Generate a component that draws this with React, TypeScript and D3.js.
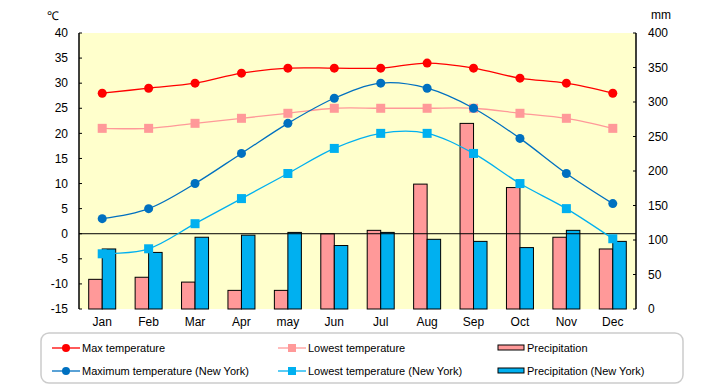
import React, { useRef, useEffect } from 'react';
import * as d3 from 'd3';

const months = ['Jan', 'Feb', 'Mar', 'Apr', 'may', 'Jun', 'Jul', 'Aug', 'Sep', 'Oct', 'Nov', 'Dec'];
const maxTemp = [28, 29, 30, 32, 33, 33, 33, 34, 33, 31, 30, 28];
const lowTemp = [21, 21, 22, 23, 24, 25, 25, 25, 25, 24, 23, 21];
const nyMaxTemp = [3, 5, 10, 16, 22, 27, 30, 29, 25, 19, 12, 6];
const nyLowTemp = [-4, -3, 2, 7, 12, 17, 20, 20, 16, 10, 5, -1];
const precip = [43, 46, 39, 27, 27, 109, 114, 181, 269, 176, 104, 87];
const nyPrecip = [87, 82, 104, 107, 111, 92, 111, 101, 98, 89, 114, 98];
const tempTicks = [40, 35, 30, 25, 20, 15, 10, 5, 0, -5, -10, -15];
const mmTicks = [400, 350, 300, 250, 200, 150, 100, 50, 0];

const FONT = '"Liberation Sans", Arial, sans-serif';

const App = () => {
  const ref = useRef<SVGSVGElement>(null);
  useEffect(() => {
    const svg = d3.select(ref.current);
    svg.selectAll('*').remove();

    const left = 79, right = 636, top = 33, bottom = 309;
    const x = d3.scaleBand().domain(months).range([left, right]);
    const yT = d3.scaleLinear().domain([-15, 40]).range([bottom, top]);
    const yP = d3.scaleLinear().domain([0, 400]).range([bottom, top]);

    svg.append('rect').attr('x', left).attr('y', top).attr('width', right - left).attr('height', bottom - top).attr('fill', '#ffffcc');

    // bars
    const bw = 13.5;
    svg.append('g').selectAll('rect').data(precip).join('rect')
      .attr('x', (d, i) => x(months[i])! + x.bandwidth() / 2 - bw)
      .attr('y', d => yP(d)).attr('width', bw).attr('height', d => bottom - yP(d))
      .attr('fill', '#ff9999').attr('stroke', '#000').attr('stroke-width', 1);
    svg.append('g').selectAll('rect').data(nyPrecip).join('rect')
      .attr('x', (d, i) => x(months[i])! + x.bandwidth() / 2)
      .attr('y', d => yP(d)).attr('width', bw).attr('height', d => bottom - yP(d))
      .attr('fill', '#00b0f0').attr('stroke', '#000').attr('stroke-width', 1);

    // zero line
    svg.append('line').attr('x1', left).attr('x2', right).attr('y1', yT(0)).attr('y2', yT(0)).attr('stroke', '#000');

    // axes
    svg.append('line').attr('x1', left).attr('x2', left).attr('y1', top).attr('y2', bottom).attr('stroke', '#000').attr('stroke-width', 1.5);
    svg.append('line').attr('x1', right).attr('x2', right).attr('y1', top).attr('y2', bottom).attr('stroke', '#000').attr('stroke-width', 1.5);
    const lt = svg.append('g').selectAll('g').data(tempTicks).join('g');
    lt.append('line').attr('x1', left).attr('x2', left + 3).attr('y1', d => yT(d)).attr('y2', d => yT(d)).attr('stroke', '#000');
    lt.append('text').attr('x', left - 11).attr('y', d => yT(d)).attr('dy', '0.35em').attr('text-anchor', 'end')
      .style('font-family', FONT).style('font-size', '12px').text(d => d);
    const rt = svg.append('g').selectAll('g').data(mmTicks).join('g');
    rt.append('line').attr('x1', right - 3).attr('x2', right).attr('y1', d => yP(d)).attr('y2', d => yP(d)).attr('stroke', '#000');
    rt.append('text').attr('x', right + 12).attr('y', d => yP(d)).attr('dy', '0.35em').attr('text-anchor', 'start')
      .style('font-family', FONT).style('font-size', '12px').text(d => d);
    svg.append('g').selectAll('text').data(months).join('text')
      .attr('x', d => x(d)! + x.bandwidth() / 2).attr('y', 322).attr('dy', '0.35em').attr('text-anchor', 'middle')
      .style('font-family', FONT).style('font-size', '12px').text(d => d);
    svg.append('text').attr('x', 47).attr('y', 20).style('font-family', FONT).style('font-size', '12px').text('℃');
    svg.append('text').attr('x', 651).attr('y', 19).style('font-family', FONT).style('font-size', '12px').text('mm');

    // lines
    const line = d3.line<number>().x((d, i) => x(months[i])! + x.bandwidth() / 2).y(d => yT(d)).curve(d3.curveCardinal);
    const series = [
      { data: maxTemp, color: '#ff0000', shape: 'circle' },
      { data: lowTemp, color: '#ff9999', shape: 'square' },
      { data: nyMaxTemp, color: '#0070c0', shape: 'circle' },
      { data: nyLowTemp, color: '#00b0f0', shape: 'square' },
    ];
    series.forEach(s => {
      svg.append('path').attr('d', line(s.data)).attr('fill', 'none').attr('stroke', s.color).attr('stroke-width', 1.3);
      const g = svg.append('g');
      if (s.shape === 'circle') {
        g.selectAll('circle').data(s.data).join('circle')
          .attr('cx', (d, i) => x(months[i])! + x.bandwidth() / 2).attr('cy', d => yT(d)).attr('r', 4.5).attr('fill', s.color);
      } else {
        g.selectAll('rect').data(s.data).join('rect')
          .attr('x', (d, i) => x(months[i])! + x.bandwidth() / 2 - 4.5).attr('y', d => yT(d) - 4.5)
          .attr('width', 9).attr('height', 9).attr('fill', s.color);
      }
    });

    // legend
    svg.append('rect').attr('x', 41).attr('y', 333).attr('width', 642).attr('height', 50).attr('rx', 8)
      .attr('fill', '#fff').attr('stroke', '#cccccc').attr('stroke-width', 1.5);
    const items = [
      { label: 'Max temperature', color: '#ff0000', shape: 'circle', x: 52, y: 348 },
      { label: 'Maximum temperature (New York)', color: '#0070c0', shape: 'circle', x: 52, y: 371 },
      { label: 'Lowest temperature', color: '#ff9999', shape: 'square', x: 278, y: 348 },
      { label: 'Lowest temperature (New York)', color: '#00b0f0', shape: 'square', x: 278, y: 371 },
      { label: 'Precipitation', color: '#ff9999', shape: 'bar', x: 498, y: 348 },
      { label: 'Precipitation (New York)', color: '#00b0f0', shape: 'bar', x: 498, y: 371 },
    ];
    items.forEach(it => {
      const g = svg.append('g');
      if (it.shape === 'bar') {
        g.append('rect').attr('x', it.x).attr('y', it.y - 3).attr('width', 26).attr('height', 5)
          .attr('fill', it.color).attr('stroke', '#000').attr('stroke-width', 1);
      } else {
        g.append('line').attr('x1', it.x).attr('x2', it.x + 28).attr('y1', it.y).attr('y2', it.y).attr('stroke', it.color).attr('stroke-width', 1.3);
        if (it.shape === 'circle') g.append('circle').attr('cx', it.x + 14).attr('cy', it.y).attr('r', 4).attr('fill', it.color);
        else g.append('rect').attr('x', it.x + 10).attr('y', it.y - 4).attr('width', 8).attr('height', 8).attr('fill', it.color);
      }
      g.append('text').attr('x', it.x + (it.shape === 'bar' ? 29 : 30)).attr('y', it.y).attr('dy', '0.35em')
        .style('font-family', FONT).style('font-size', '11px').text(it.label);
    });
  }, []);

  return <svg ref={ref} width={720} height={385} style={{ display: 'block', position: 'absolute', left: 0, top: 0 }} />;
};

export default App;
